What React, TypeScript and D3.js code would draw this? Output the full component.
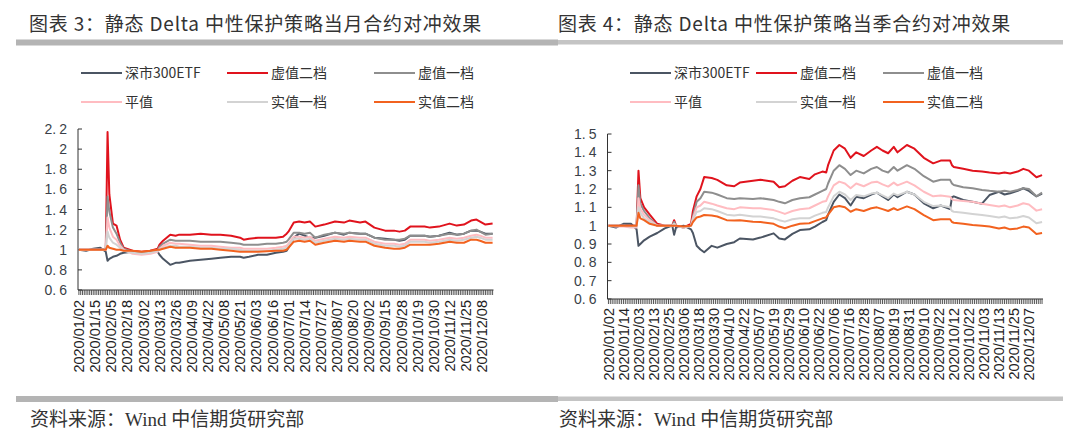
import React from "react";
import * as d3 from "d3";

// exchange holidays on weekdays in 2020 (MM-DD)
const holidays = ["01-01", "01-24", "01-27", "01-28", "01-29", "01-30", "01-31", "04-06", "05-01", "05-04", "05-05", "06-25", "06-26", "10-01", "10-02", "10-05", "10-06", "10-07", "10-08"];

const seriesNames = ["深市300ETF", "虚值二档", "虚值一档", "平值", "实值一档", "实值二档"];
const seriesColors = ["#4b5563", "#e0131d", "#8e8e8e", "#ffbcc1", "#d3d3d3", "#f2621f"];

// 当月合约
const monthDates = ["01-02", "01-08", "01-14", "01-20", "01-23", "02-03", "02-04", "02-06", "02-10", "02-12", "02-14", "02-21", "02-28", "03-06", "03-12", "03-13", "03-17", "03-23", "03-26", "03-30", "04-08", "04-16", "04-24", "05-06", "05-14", "05-21", "05-25", "05-28", "06-04", "06-11", "06-18", "06-24", "06-30", "07-01", "07-06", "07-09", "07-14", "07-17", "07-22", "07-29", "08-06", "08-13", "08-18", "08-26", "08-31", "09-07", "09-15", "09-22", "09-25", "09-30", "10-13", "10-23", "10-28", "11-04", "11-12", "11-18", "11-24", "11-30", "12-03", "12-07", "12-10", "12-16"];
const monthEtf = [1.00, 0.99, 1.01, 1.02, 0.98, 0.89, 0.91, 0.93, 0.94, 0.96, 0.97, 0.98, 0.96, 0.99, 0.98, 0.95, 0.91, 0.85, 0.87, 0.87, 0.89, 0.90, 0.91, 0.92, 0.93, 0.93, 0.92, 0.93, 0.95, 0.95, 0.97, 0.98, 0.99, 1.02, 1.12, 1.16, 1.14, 1.12, 1.12, 1.14, 1.17, 1.15, 1.17, 1.16, 1.16, 1.12, 1.11, 1.10, 1.09, 1.10, 1.14, 1.14, 1.13, 1.14, 1.17, 1.15, 1.16, 1.19, 1.19, 1.18, 1.16, 1.16];
const monthOtm2 = [1.00, 1.00, 1.00, 1.00, 1.01, 2.17, 1.55, 1.26, 1.24, 1.10, 1.02, 0.99, 0.98, 0.99, 1.01, 1.05, 1.09, 1.15, 1.14, 1.15, 1.15, 1.16, 1.15, 1.15, 1.14, 1.12, 1.10, 1.11, 1.12, 1.12, 1.12, 1.13, 1.16, 1.18, 1.27, 1.28, 1.27, 1.28, 1.23, 1.25, 1.28, 1.27, 1.29, 1.27, 1.28, 1.22, 1.19, 1.19, 1.18, 1.19, 1.23, 1.23, 1.22, 1.23, 1.26, 1.24, 1.25, 1.29, 1.30, 1.28, 1.25, 1.26];
const monthOtm1 = [1.00, 1.00, 1.00, 1.00, 1.01, 1.53, 1.38, 1.22, 1.16, 1.07, 1.01, 0.98, 0.97, 0.98, 1.00, 1.03, 1.06, 1.10, 1.09, 1.09, 1.09, 1.08, 1.08, 1.08, 1.07, 1.06, 1.05, 1.05, 1.05, 1.06, 1.06, 1.07, 1.08, 1.10, 1.17, 1.17, 1.16, 1.17, 1.12, 1.15, 1.17, 1.16, 1.17, 1.16, 1.16, 1.12, 1.10, 1.10, 1.10, 1.11, 1.14, 1.14, 1.13, 1.14, 1.16, 1.15, 1.16, 1.19, 1.20, 1.18, 1.15, 1.16];
const monthAtm = [1.00, 1.00, 1.00, 1.00, 1.00, 1.32, 1.22, 1.13, 1.10, 1.04, 1.00, 0.96, 0.95, 0.96, 0.98, 1.01, 1.04, 1.07, 1.06, 1.06, 1.05, 1.04, 1.04, 1.03, 1.02, 1.02, 1.01, 1.01, 1.01, 1.01, 1.02, 1.03, 1.04, 1.06, 1.13, 1.13, 1.12, 1.13, 1.09, 1.11, 1.13, 1.12, 1.13, 1.12, 1.12, 1.08, 1.06, 1.06, 1.05, 1.06, 1.10, 1.10, 1.09, 1.10, 1.12, 1.11, 1.12, 1.14, 1.15, 1.14, 1.12, 1.12];
const monthItm1 = [1.00, 1.00, 1.00, 1.00, 1.00, 1.18, 1.12, 1.07, 1.05, 1.02, 0.99, 0.97, 0.96, 0.97, 0.99, 1.00, 1.02, 1.04, 1.04, 1.03, 1.03, 1.02, 1.02, 1.01, 1.01, 1.00, 0.99, 0.99, 0.99, 0.99, 1.00, 1.01, 1.02, 1.04, 1.11, 1.11, 1.10, 1.11, 1.07, 1.09, 1.11, 1.10, 1.11, 1.10, 1.10, 1.06, 1.04, 1.04, 1.03, 1.04, 1.08, 1.08, 1.07, 1.08, 1.10, 1.09, 1.10, 1.12, 1.13, 1.12, 1.10, 1.10];
const monthItm2 = [1.00, 1.00, 1.00, 1.00, 1.00, 1.04, 1.02, 1.01, 1.00, 1.00, 0.99, 0.99, 0.98, 0.99, 1.00, 1.00, 1.01, 1.03, 1.02, 1.02, 1.02, 1.01, 1.01, 1.00, 0.99, 0.98, 0.98, 0.98, 0.98, 0.985, 0.99, 0.99, 1.00, 1.02, 1.08, 1.09, 1.08, 1.09, 1.05, 1.07, 1.09, 1.08, 1.09, 1.08, 1.08, 1.04, 1.02, 1.01, 1.01, 1.02, 1.05, 1.05, 1.05, 1.06, 1.08, 1.07, 1.07, 1.10, 1.10, 1.09, 1.07, 1.07];
const monthTickLabels = ["2020/01/02", "2020/01/15", "2020/02/05", "2020/02/18", "2020/03/02", "2020/03/13", "2020/03/26", "2020/04/09", "2020/04/22", "2020/05/08", "2020/05/21", "2020/06/03", "2020/06/16", "2020/07/01", "2020/07/14", "2020/07/27", "2020/08/07", "2020/08/20", "2020/09/02", "2020/09/15", "2020/09/28", "2020/10/19", "2020/10/30", "2020/11/12", "2020/11/25", "2020/12/08"];
const monthYTicks = [0.6, 0.8, 1, 1.2, 1.4, 1.6, 1.8, 2, 2.2];

// 当季合约
const quarterDates = ["01-02", "01-08", "01-14", "01-20", "01-23", "02-03", "02-04", "02-06", "02-11", "02-17", "02-21", "02-27", "02-28", "03-02", "03-06", "03-12", "03-13", "03-17", "03-19", "03-23", "03-27", "04-01", "04-09", "04-15", "04-20", "04-29", "05-08", "05-19", "05-22", "05-27", "06-02", "06-08", "06-15", "06-18", "06-24", "06-30", "07-01", "07-06", "07-09", "07-14", "07-17", "07-22", "07-28", "08-03", "08-06", "08-11", "08-14", "08-19", "08-21", "08-28", "09-03", "09-10", "09-17", "09-23", "09-30", "10-09", "10-12", "10-19", "10-26", "11-02", "11-06", "11-13", "11-18", "11-23", "11-27", "12-02", "12-07", "12-11", "12-16"];
const quarterEtf = [1.00, 0.99, 1.01, 1.01, 0.98, 0.89, 0.90, 0.92, 0.94, 0.96, 0.985, 1.00, 0.95, 0.99, 1.00, 0.98, 0.96, 0.89, 0.87, 0.855, 0.89, 0.88, 0.90, 0.91, 0.93, 0.925, 0.935, 0.958, 0.93, 0.925, 0.955, 0.976, 0.98, 0.995, 1.02, 1.03, 1.06, 1.13, 1.17, 1.15, 1.11, 1.158, 1.15, 1.17, 1.18, 1.16, 1.14, 1.17, 1.155, 1.185, 1.17, 1.122, 1.095, 1.11, 1.09, 1.155, 1.16, 1.14, 1.13, 1.12, 1.167, 1.185, 1.17, 1.177, 1.19, 1.204, 1.19, 1.16, 1.175];
const quarterOtm2 = [1.00, 1.00, 1.00, 1.00, 1.00, 1.30, 1.15, 1.10, 1.06, 1.01, 1.00, 1.00, 1.03, 1.00, 0.99, 1.01, 1.08, 1.16, 1.20, 1.265, 1.26, 1.25, 1.22, 1.215, 1.235, 1.245, 1.25, 1.24, 1.21, 1.215, 1.245, 1.265, 1.255, 1.28, 1.295, 1.29, 1.33, 1.41, 1.44, 1.42, 1.37, 1.40, 1.38, 1.41, 1.43, 1.41, 1.395, 1.43, 1.40, 1.44, 1.42, 1.37, 1.34, 1.355, 1.355, 1.33, 1.32, 1.31, 1.30, 1.295, 1.29, 1.285, 1.29, 1.285, 1.295, 1.31, 1.30, 1.264, 1.276];
const quarterOtm1 = [1.00, 1.00, 1.00, 1.00, 1.00, 1.22, 1.12, 1.08, 1.04, 1.00, 1.00, 1.00, 1.02, 1.00, 0.99, 1.00, 1.05, 1.13, 1.15, 1.185, 1.18, 1.17, 1.15, 1.145, 1.15, 1.145, 1.15, 1.14, 1.13, 1.122, 1.14, 1.15, 1.155, 1.17, 1.19, 1.20, 1.23, 1.30, 1.33, 1.31, 1.276, 1.30, 1.285, 1.31, 1.32, 1.30, 1.29, 1.32, 1.30, 1.33, 1.31, 1.27, 1.24, 1.25, 1.25, 1.23, 1.222, 1.21, 1.204, 1.195, 1.19, 1.185, 1.19, 1.185, 1.195, 1.204, 1.20, 1.16, 1.18];
const quarterAtm = [1.00, 0.995, 0.995, 0.99, 0.99, 1.15, 1.09, 1.06, 1.03, 1.00, 1.00, 1.00, 1.01, 1.00, 0.99, 1.00, 1.04, 1.10, 1.11, 1.13, 1.12, 1.11, 1.095, 1.09, 1.10, 1.095, 1.095, 1.085, 1.075, 1.064, 1.08, 1.09, 1.095, 1.11, 1.13, 1.135, 1.16, 1.22, 1.24, 1.23, 1.204, 1.23, 1.215, 1.235, 1.24, 1.225, 1.213, 1.235, 1.22, 1.24, 1.22, 1.185, 1.16, 1.165, 1.158, 1.145, 1.14, 1.135, 1.13, 1.12, 1.113, 1.105, 1.11, 1.10, 1.11, 1.122, 1.115, 1.082, 1.09];
const quarterItm1 = [1.00, 1.00, 1.00, 0.995, 0.995, 1.10, 1.07, 1.04, 1.02, 1.00, 1.00, 1.00, 1.01, 1.00, 0.99, 1.00, 1.03, 1.075, 1.08, 1.095, 1.09, 1.08, 1.06, 1.055, 1.06, 1.05, 1.05, 1.04, 1.03, 1.022, 1.035, 1.04, 1.04, 1.055, 1.07, 1.075, 1.10, 1.16, 1.185, 1.17, 1.14, 1.167, 1.16, 1.175, 1.18, 1.165, 1.15, 1.175, 1.165, 1.185, 1.17, 1.13, 1.107, 1.11, 1.10, 1.08, 1.076, 1.07, 1.064, 1.058, 1.053, 1.045, 1.05, 1.04, 1.045, 1.053, 1.045, 1.013, 1.02];
const quarterItm2 = [1.00, 1.00, 1.00, 1.00, 1.00, 1.07, 1.04, 1.03, 1.01, 1.00, 1.00, 1.00, 1.00, 1.00, 0.995, 1.00, 1.02, 1.045, 1.05, 1.058, 1.055, 1.05, 1.03, 1.028, 1.03, 1.022, 1.02, 1.01, 0.995, 0.986, 1.00, 1.01, 1.013, 1.025, 1.04, 1.045, 1.06, 1.10, 1.107, 1.10, 1.076, 1.09, 1.08, 1.095, 1.10, 1.09, 1.08, 1.095, 1.085, 1.105, 1.09, 1.058, 1.03, 1.035, 1.035, 1.02, 1.016, 1.01, 1.004, 1.00, 0.995, 0.985, 0.99, 0.98, 0.985, 0.995, 0.99, 0.955, 0.96];
const quarterTickLabels = ["2020/01/02", "2020/01/14", "2020/02/03", "2020/02/13", "2020/02/25", "2020/03/06", "2020/03/18", "2020/03/30", "2020/04/10", "2020/04/22", "2020/05/07", "2020/05/19", "2020/05/29", "2020/06/10", "2020/06/22", "2020/07/06", "2020/07/16", "2020/07/28", "2020/08/07", "2020/08/19", "2020/08/31", "2020/09/10", "2020/09/22", "2020/10/12", "2020/10/22", "2020/11/03", "2020/11/13", "2020/11/25", "2020/12/07"];
const quarterYTicks = [0.6, 0.7, 0.8, 0.9, 1, 1.1, 1.2, 1.3, 1.4, 1.5];

const md = d3.timeFormat("%m-%d");
const tradingDays = d3.timeDay
  .range(new Date(2020, 0, 2), new Date(2020, 11, 17))
  .filter((d) => d.getDay() % 6 !== 0 && !holidays.includes(md(d)));
const dayIndex = new Map(tradingDays.map((d, i) => [md(d), i]));
const idx = (s: string) => dayIndex.get(s.length > 5 ? s.slice(5).replace("/", "-") : s) as number;

const cjk = "'Noto Sans CJK SC', 'Noto Sans', sans-serif";
const latin = "'Liberation Sans', Arial, sans-serif";

function Panel(props: any) {
  const { title, dates, series, tickLabels, yTicks, yDomain, x0, x1, yTop, yBottom, labelTop, legendX, left } = props;
  const xs = d3.scaleLinear().domain([-0.5, tradingDays.length - 0.5]).range([x0, x1]);
  const ys = d3.scaleLinear().domain(yDomain).range([yBottom, yTop]);
  const line = d3
    .line<[string, number]>()
    .x((d) => xs(idx(d[0])))
    .y((d) => ys(d[1]));

  return (
    <g>
      <text x={left + 13} y={31} fontFamily={cjk} fontSize={19} letterSpacing={0.8} fill="#333">
        {title}
      </text>
      {/* legend */}
      {seriesNames.map((name, i) => {
        const lx = legendX[i % 3];
        const ly = i < 3 ? 73 : 102;
        return (
          <g key={name}>
            <line x1={lx} x2={lx + 41} y1={ly} y2={ly} stroke={seriesColors[i]} strokeWidth={2} />
            <text x={lx + 44} y={ly} dy="0.36em" fontFamily={cjk} fontSize={14} fill="#333">
              {name}
            </text>
          </g>
        );
      })}
      {/* y axis */}
      <line x1={x0} x2={x0} y1={yTop} y2={yBottom} stroke="#333" strokeWidth={1} />
      {yTicks.map((t: number) => {
        const s = String(t).split(".");
        return (
          <g key={t}>
            <line x1={x0} x2={x0 + 4} y1={ys(t)} y2={ys(t)} stroke="#333" />
            <text x={x0 - 11} y={ys(t)} dy="0.36em" textAnchor="end" fontFamily={latin} fontSize={14} fill="#3a3f48">
              {s[0]}
              {s[1] ? <tspan>.</tspan> : null}
              {s[1] ? <tspan dx={3}>{s[1]}</tspan> : null}
            </text>
          </g>
        );
      })}
      {/* x axis with a tick per trading day */}
      <line x1={x0} x2={x1} y1={yBottom} y2={yBottom} stroke="#333" strokeWidth={1.2} />
      {tradingDays.map((d, i) => (
        <line key={i} x1={xs(i)} x2={xs(i)} y1={yBottom} y2={yBottom + 5} stroke="#444" strokeWidth={0.9} />
      ))}
      {tickLabels.map((l: string) => (
        <text
          key={l}
          transform={`translate(${xs(idx(l))},${labelTop}) rotate(-90)`}
          textAnchor="end"
          dy="0.36em"
          fontFamily={latin}
          fontSize={14.5}
          fill="#222"
        >
          {l}
        </text>
      ))}
      {/* series */}
      {series.map((vals: number[], i: number) => (
        <path
          key={i}
          d={line(dates.map((d: string, j: number) => [d, vals[j]] as [string, number])) || ""}
          fill="none"
          stroke={seriesColors[i]}
          strokeWidth={2}
          strokeLinejoin="round"
        />
      ))}
      <text x={left + 14} y={426} fontFamily={`'Liberation Serif', ${cjk}`} fontSize={19} fill="#333">
        资料来源：Wind 中信期货研究部
      </text>
    </g>
  );
}

function App() {
  return (
    <svg width={1080} height={443} style={{ position: "absolute", left: 0, top: 0, background: "#fff" }}>
      <rect x={16} y={39.5} width={542} height={6} fill="#b4b4b4" />
      <rect x={558} y={40} width={505} height={4.5} fill="#c4c4c4" />
      <rect x={16} y={396} width={542} height={6} fill="#b4b4b4" />
      <rect x={558} y={396.5} width={505} height={4.5} fill="#c4c4c4" />
      <Panel
        title="图表 3：静态 Delta 中性保护策略当月合约对冲效果"
        dates={monthDates}
        series={[monthEtf, monthOtm2, monthOtm1, monthAtm, monthItm1, monthItm2]}
        tickLabels={monthTickLabels}
        yTicks={monthYTicks}
        yDomain={[0.6, 2.2]}
        x0={78}
        x1={493.5}
        yTop={129}
        yBottom={290}
        labelTop={300}
        legendX={[81, 227, 374]}
        left={16}
      />
      <Panel
        title="图表 4：静态 Delta 中性保护策略当季合约对冲效果"
        dates={quarterDates}
        series={[quarterEtf, quarterOtm2, quarterOtm1, quarterAtm, quarterItm1, quarterItm2]}
        tickLabels={quarterTickLabels}
        yTicks={quarterYTicks}
        yDomain={[0.6, 1.5]}
        x0={607.5}
        x1={1043}
        yTop={134}
        yBottom={299}
        labelTop={308}
        legendX={[630, 756, 883]}
        left={545}
      />
    </svg>
  );
}

export default App;
